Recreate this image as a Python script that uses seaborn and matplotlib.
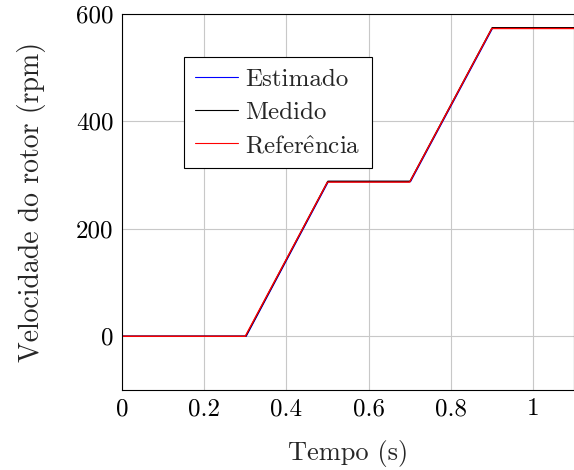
import numpy as np
import pandas as pd
import matplotlib
matplotlib.use("Agg")
import matplotlib.pyplot as plt
import seaborn as sns

# Breakpoints (time in s, speed in rpm)
tempo_ref = [0.0, 0.3, 0.5, 0.7, 0.9, 1.1]
vel_ref = [0, 0, 287, 287, 573, 573]

tempo_est = [0.0, 0.302, 0.502, 0.702, 0.902, 1.1]
vel_est = [0, 0, 288, 288, 574, 574]

tempo_med = [0.0, 0.301, 0.501, 0.701, 0.901, 1.1]
vel_med = [0, 0, 288.5, 288.5, 574.5, 574.5]

series_names = ["Estimado", "Medido", "Referência"]
legend_labels = ["Estimado", "Medido", r"Refer$\hat{\mathrm{e}}$ncia"]
colors = ["#0000ff", "#000000", "#ff0000"]

xticks = [0, 0.2, 0.4, 0.6, 0.8, 1.0]
xtick_labels = ["0", "0.2", "0.4", "0.6", "0.8", "1"]
yticks = [0, 200, 400, 600]

sns.set_style("white")
plt.rcParams["font.family"] = ["cmr10", "DejaVu Serif"]
plt.rcParams["mathtext.fontset"] = "cm"
plt.rcParams["axes.formatter.use_mathtext"] = True

df = pd.concat([
    pd.DataFrame({"t": tempo_est, "v": vel_est, "s": series_names[0]}),
    pd.DataFrame({"t": tempo_med, "v": vel_med, "s": series_names[1]}),
    pd.DataFrame({"t": tempo_ref, "v": vel_ref, "s": series_names[2]}),
])

FS = 18

fig = plt.figure(figsize=(5.74, 4.70), dpi=100)
ax = fig.add_axes([122/574, 1-390/470, 1-122/574, (390-14)/470])

sns.lineplot(data=df, x="t", y="v", hue="s", palette=dict(zip(series_names, colors)),
             hue_order=series_names, lw=1.0, ax=ax, sort=False, estimator=None)

ax.set_xlim(0, 1.1)
ax.set_ylim(-100, 600)
ax.set_xticks(xticks)
ax.set_xticklabels(xtick_labels)
ax.set_yticks(yticks)
ax.set_yticklabels([str(v) for v in yticks])
ax.grid(True, color="#c8c8c8", lw=0.8)
ax.set_axisbelow(True)
for sp in ax.spines.values():
    sp.set_color("black")
    sp.set_linewidth(0.8)
ax.tick_params(direction="in", length=4, width=0.6, labelsize=FS, colors="black", pad=6)
ax.set_xlabel("Tempo (s)", fontsize=19, labelpad=14)
ax.set_ylabel("Velocidade do rotor (rpm)", fontsize=20, labelpad=22)

handles, _ = ax.get_legend_handles_labels()
leg = ax.legend(handles, legend_labels, loc="upper left", bbox_to_anchor=(0.137, 0.886), fontsize=FS,
                frameon=True, fancybox=False, edgecolor="black", framealpha=1,
                handlelength=1.7, handletextpad=0.3, borderpad=0.45, labelspacing=0.43,
                borderaxespad=0)
leg.get_frame().set_linewidth(0.8)
for line in leg.get_lines():
    line.set_linewidth(0.8)

fig.savefig("out.png", dpi=100)
